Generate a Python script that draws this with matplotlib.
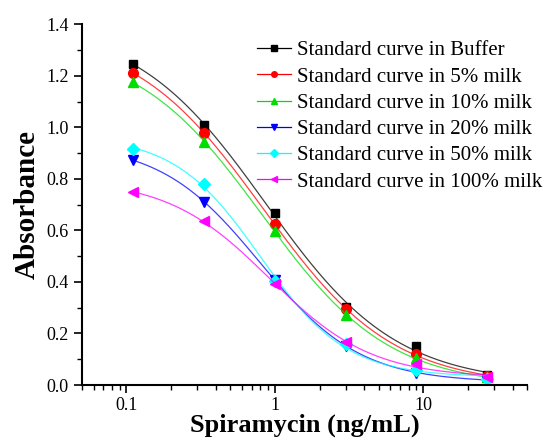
import matplotlib
matplotlib.use("Agg")
import matplotlib.pyplot as plt
import numpy as np

plt.rcParams['font.family'] = ['Liberation Serif', 'DejaVu Serif']

# spiramycin concentrations (ng/mL), 3-fold dilutions
conc = [1/9, 1/3, 1, 3, 9, 27]

buffer_abs = [1.245, 1.009, 0.666, 0.304, 0.152, 0.039]
milk5_abs = [1.210, 0.978, 0.624, 0.293, 0.120, 0.035]
milk10_abs = [1.174, 0.943, 0.598, 0.271, 0.103, 0.030]
milk20_abs = [0.872, 0.711, 0.407, 0.152, 0.048, 0.020]
milk50_abs = [0.914, 0.781, 0.405, 0.160, 0.058, 0.025]
milk100_abs = [0.747, 0.637, 0.390, 0.168, 0.081, 0.030]

labels = ["Standard curve in Buffer", "Standard curve in 5% milk",
          "Standard curve in 10% milk", "Standard curve in 20% milk",
          "Standard curve in 50% milk", "Standard curve in 100% milk"]
colors = ['black', 'red', '#00dd00', '#0000ff', '#00ffff', '#ff00ff']
markers = ['s', 'o', '^', 'v', 'D', '<']
msizes = [6, 7, 7, 7, 6, 7]


def logistic(p, x):
    a, b, lc, d = p
    return d + (a - d) / (1 + np.exp(b * (np.log(x) - lc)))


def fit_4pl(x, y):
    # small Levenberg-Marquardt fit of a 4-parameter logistic
    x = np.asarray(x)
    y = np.asarray(y)
    p = np.array([y.max() * 1.1, 1.0, 0.0, 0.0])
    lam = 1e-2
    for _ in range(400):
        r = y - logistic(p, x)
        J = np.empty((len(x), 4))
        for k in range(4):
            dp = np.zeros(4)
            dp[k] = 1e-6
            J[:, k] = (logistic(p + dp, x) - logistic(p, x)) / 1e-6
        H = J.T @ J
        step = np.linalg.solve(H + lam * np.diag(np.diag(H) + 1e-9), J.T @ r)
        if np.sum((y - logistic(p + step, x)) ** 2) < np.sum(r ** 2):
            p = p + step
            lam *= 0.3
        else:
            lam *= 10
    return p


fig = plt.figure(figsize=(5.45, 4.4), dpi=100)
ax = fig.add_axes([0.150, 0.125, 0.817, 0.82])

series = [buffer_abs, milk5_abs, milk10_abs, milk20_abs, milk50_abs, milk100_abs]
xs = np.geomspace(conc[0], conc[-1], 200)
handles = []
for vals, lab, c, m, ms in zip(series, labels, colors, markers, msizes):
    p = fit_4pl(conc, vals)
    ax.plot(xs, logistic(p, xs), color=c, lw=0.9, alpha=0.75)
    ax.plot(conc, vals, ls='none', marker=m, color=c, ms=ms)
    # legend proxy
    h, = ax.plot([], [], color=c, lw=0.9, marker=m, ms=4, label=lab)
    handles.append(h)

ax.set_xscale('log')
ax.set_xlim(0.05, 50)
ax.set_ylim(0, 1.4)
ax.set_yticks(np.arange(0, 1.41, 0.2))
ax.set_yticks(np.arange(0.1, 1.4, 0.2), minor=True)
ax.set_xticks([0.1, 1, 10])
ax.set_xticklabels(['0.1', '1', '10'])
ax.yaxis.set_major_formatter(matplotlib.ticker.FormatStrFormatter('%.1f'))
for s in ['top', 'right']:
    ax.spines[s].set_visible(False)
for s in ['left', 'bottom']:
    ax.spines[s].set_linewidth(1.5)
ax.tick_params(which='major', length=6, width=1.2, labelsize=13, direction='out')
ax.tick_params(axis='x', which='major', pad=2.5)
ax.tick_params(which='minor', length=3.5, width=1.0, direction='out')

ax.set_xlabel('Spiramycin (ng/mL)', fontsize=19, fontweight='bold', labelpad=0)
ax.set_ylabel('Absorbance', fontsize=21, fontweight='bold', labelpad=4)

ax.legend(handles, labels, loc='upper left',
          bbox_to_anchor=(0.371, 0.983), frameon=False, fontsize=15,
          handlelength=1.6, handletextpad=0.3, labelspacing=0.32, borderpad=0)

fig.savefig('out.png', dpi=100)
